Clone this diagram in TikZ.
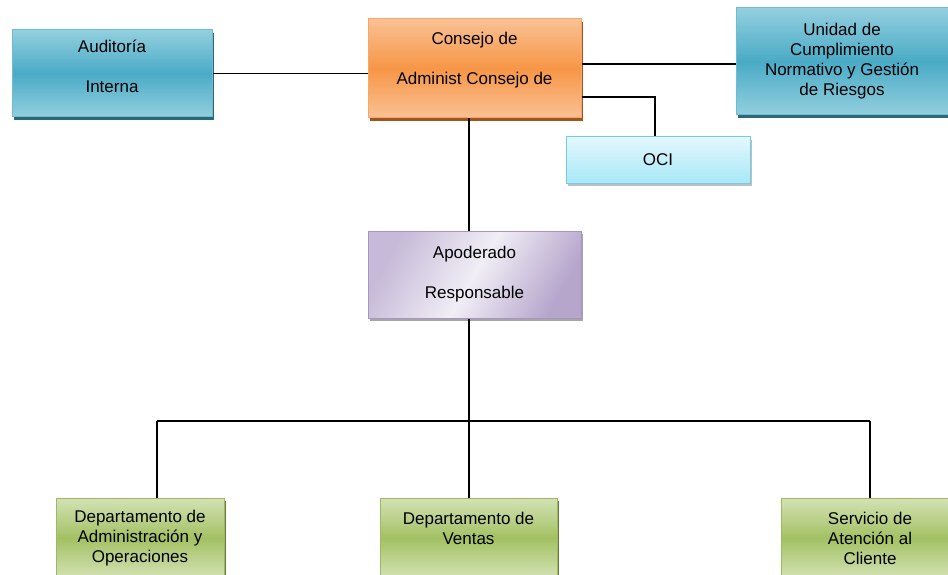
\documentclass[tikz,border=0pt]{standalone}
\usepackage{fontspec}
\setmainfont{Liberation Sans}
\usetikzlibrary{shadows}

\definecolor{azulL}{HTML}{93CFDF}
\definecolor{azulM}{HTML}{4AABC6}
\definecolor{azulB}{HTML}{6FBCD2}
\definecolor{azulS}{HTML}{2C6878}
\definecolor{naranjaL}{HTML}{FAC195}
\definecolor{naranjaM}{HTML}{F79646}
\definecolor{naranjaB}{HTML}{F8A766}
\definecolor{naranjaS}{HTML}{A4531C}
\definecolor{verdeL}{HTML}{D3E2B5}
\definecolor{verdeM}{HTML}{A3C163}
\definecolor{verdeB}{HTML}{9DBA62}
\definecolor{verdeS}{HTML}{667A3A}
\definecolor{celesteL}{HTML}{E3F7FD}
\definecolor{celesteM}{HTML}{A8E8F8}
\definecolor{celesteB}{HTML}{73CDE3}
\definecolor{lilaL}{HTML}{C6BAD8}
\definecolor{lilaM}{HTML}{F1EEF6}
\definecolor{lilaR}{HTML}{B6A6CC}
\definecolor{lilaB}{HTML}{A895C2}

\begin{document}
\begin{tikzpicture}[x=1pt, y=-1pt, font=\fontsize{17}{20}\selectfont]
	\tikzstyle{caja} = [draw, line width=1pt, rectangle, align=center, inner sep=0pt]
	\tikzstyle{azul} = [caja, draw=azulB, top color=azulL, bottom color=azulL, middle color=azulM, drop shadow={shadow xshift=2pt, shadow yshift=-3pt, fill=azulS, opacity=1}]
	\tikzstyle{naranja} = [caja, draw=naranjaB, top color=naranjaL, bottom color=naranjaL, middle color=naranjaM, drop shadow={shadow xshift=2pt, shadow yshift=-3pt, fill=naranjaS, opacity=1}]
	\tikzstyle{verde} = [caja, draw=verdeB, top color=verdeL, bottom color=verdeL, middle color=verdeM, drop shadow={shadow xshift=2pt, shadow yshift=-3pt, fill=verdeS, opacity=1}]
	\tikzstyle{celeste} = [caja, draw=celesteB, top color=celesteL, bottom color=celesteM, drop shadow={shadow xshift=2pt, shadow yshift=-3pt, fill=black!25, opacity=1}]
	\tikzstyle{lila} = [caja, draw=lilaB, left color=lilaL, right color=lilaR, middle color=lilaM, shading angle=60, drop shadow={shadow xshift=2pt, shadow yshift=-3pt, fill=black!35, opacity=1}]
	\tikzstyle{linea} = [draw, black, line width=1.8pt]
	\tikzstyle{barra} = [draw, black, line width=2.6pt]

	\useasboundingbox (0,0) rectangle (948,575);

	% nivel superior
	\node[azul, minimum width=200pt, minimum height=87pt] (auditoria) at (112,73.5) {Auditoría\\[20pt]Interna\\[-6pt]\mbox{}};
	\node[naranja, minimum width=213pt, minimum height=99pt] (consejo) at (474.5,68.5) {Consejo de\\[20pt]Administ Consejo de\\\mbox{}};
	\node[azul, minimum width=212pt, minimum height=107pt] (unidad) at (842,61.5) {Unidad de\\Cumplimiento\\Normativo y Gestión\\de Riesgos};
	\node[celeste, minimum width=184pt, minimum height=46pt] (oci) at (658,160) {OCI};

	% apoderado
	\node[lila, minimum width=213pt, minimum height=87pt] (apoderado) at (474.5,274.5) {Apoderado\\[20pt]Responsable};

	% departamentos
	\node[verde, minimum width=168pt, minimum height=80pt] (admin) at (140,538) {Departamento de\\Administración y\\Operaciones};
	\node[verde, minimum width=177pt, minimum height=80pt] (ventas) at (468.5,538) {Departamento de\\Ventas\\\mbox{}};
	\node[verde, minimum width=178pt, minimum height=80pt] (servicio) at (870,538) {Servicio de\\Atención al\\Cliente};

	\coordinate (eje) at (469,421);
	\coordinate (busI) at (157,421);
	\coordinate (busD) at (870,421);

	\path[linea]
		(auditoria.east) -- (auditoria.east -| consejo.west)
		([yshift=4.5pt]consejo.east) -- ([yshift=4.5pt]consejo.east -| unidad.west)
		([yshift=-28.5pt]consejo.east) -| ([xshift=-3pt]oci.north)
		(consejo.south -| eje) -- (apoderado.north -| eje)
		(apoderado.south -| eje) -- (ventas.north -| eje)
		(busI) -- (busI |- admin.north)
		(busD) -- (servicio.north)
	;
	\path[barra] (busI) -- (busD);
\end{tikzpicture}
\end{document}
